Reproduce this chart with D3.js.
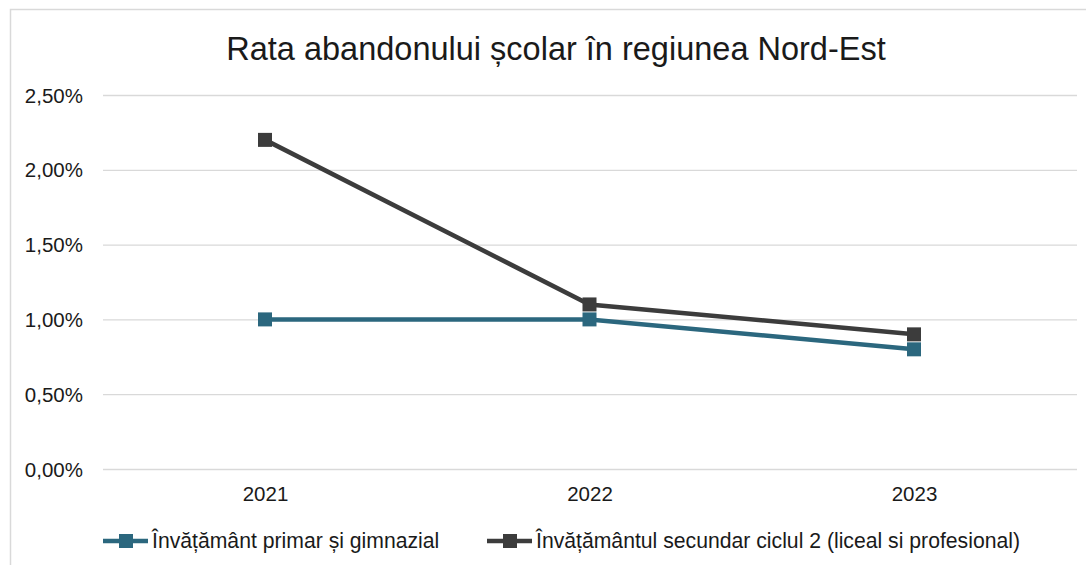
<!DOCTYPE html>
<html><head><meta charset="utf-8">
<script src="https://cdn.jsdelivr.net/npm/d3@7"></script>
<style>body{margin:0;background:#fff;}svg{display:block;font-family:"Liberation Sans",Arial,sans-serif;}</style>
</head><body>
<svg id="c" width="1091" height="565"></svg>
<script>
const title = "Rata abandonului școlar în regiunea Nord-Est";
const years = ["2021", "2022", "2023"];
const seriesNames = ["Învățământ primar și gimnazial", "Învățământul secundar ciclul 2 (liceal si profesional)"];
const primar = [0.0100, 0.0100, 0.0080];
const secundar = [0.0220, 0.0110, 0.0090];
const yTicks = [0, 0.005, 0.01, 0.015, 0.02, 0.025];
const colors = ["#2B677E", "#3C3C3C"];

const svg = d3.select("#c");
svg.append("path").attr("d","M10.5,565 L10.5,9.5 L1086,9.5").attr("fill","none").attr("stroke","#d9d9d9").attr("stroke-width",1.5);

const x = d3.scalePoint().domain(years).range([265, 914]);
const y = d3.scaleLinear().domain([0, 0.025]).range([469, 95]);

const fmt = v => d3.format(".2f")(v*100).replace(".", ",") + "%";
const yAxis = d3.axisLeft(y).tickValues(yTicks).tickSize(-(1077-103)).tickFormat(fmt);
const gy = svg.append("g").attr("transform","translate(103,0)").call(yAxis);
gy.select(".domain").remove();
gy.selectAll(".tick line").attr("stroke","#d9d9d9").attr("stroke-width",1.3);
gy.selectAll(".tick text").attr("fill","#1a1a1a").style("font-size","20.5px").attr("x",-20).attr("dy","0.35em");

const xAxis = d3.axisBottom(x).tickSize(0);
const gx = svg.append("g").attr("transform","translate(0,469)").call(xAxis);
gx.select(".domain").remove();
gx.selectAll(".tick text").attr("fill","#1a1a1a").style("font-size","20.5px").attr("y",32).attr("dy",0);

const data = [primar, secundar];
const line = d3.line().x((d,i)=>x(years[i])).y(d=>y(d));
data.forEach((s, k) => {
  svg.append("path").datum(s).attr("d", line).attr("fill","none").attr("stroke",colors[k]).attr("stroke-width",4.5);
  svg.selectAll(null).data(s).enter().append("rect")
    .attr("x",(d,i)=>x(years[i])-7).attr("y",d=>y(d)-7).attr("width",14).attr("height",14)
    .attr("fill",colors[k]);
});

svg.append("text").attr("x",556).attr("y",60).attr("text-anchor","middle")
  .style("font-size","32.5px").attr("fill","#1a1a1a").text(title);

const legX = [103, 487];
seriesNames.forEach((n,k)=>{
  const g = svg.append("g").attr("transform",`translate(${legX[k]},541)`);
  g.append("line").attr("x1",0).attr("x2",45).attr("y1",0).attr("y2",0).attr("stroke",colors[k]).attr("stroke-width",4.5);
  g.append("rect").attr("x",16).attr("y",-7).attr("width",14).attr("height",14).attr("fill",colors[k]);
  g.append("text").attr("x",49).attr("y",7).style("font-size","21.2px").attr("fill","#1a1a1a").text(n);
});
</script>
</body></html>
